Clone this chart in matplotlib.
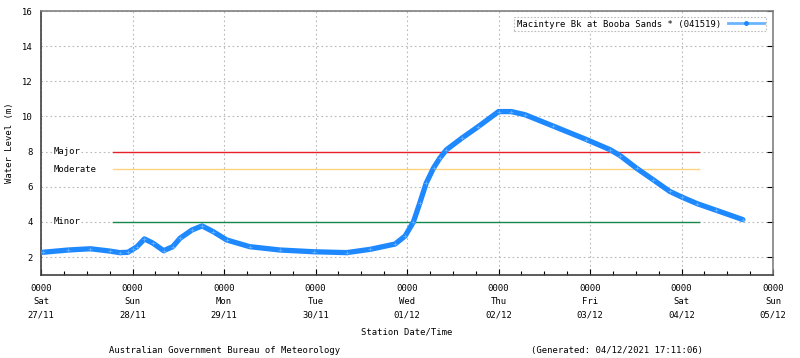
import numpy as np
import matplotlib
matplotlib.use('Agg')
import matplotlib.pyplot as plt
from matplotlib.ticker import MultipleLocator

# days since Sat 27/11 0000
days = [0.02, 0.30, 0.54, 0.75, 0.86, 0.95, 1.01, 1.05, 1.13, 1.22, 1.34, 1.44, 1.52,
        1.65, 1.76, 1.88, 2.03, 2.28, 2.61, 2.98, 3.34, 3.60, 3.87, 3.98, 4.07,
        4.14, 4.21, 4.29, 4.36, 4.43, 4.60, 4.78, 5.00, 5.14, 5.29, 5.60, 5.96,
        6.22, 6.33, 6.51, 6.69, 6.87, 7.00, 7.17, 7.38, 7.67]
level = [2.27, 2.40, 2.47, 2.34, 2.25, 2.27, 2.46, 2.59, 3.03, 2.80, 2.36, 2.59, 3.07,
         3.54, 3.77, 3.45, 2.97, 2.59, 2.40, 2.30, 2.25, 2.44, 2.74, 3.20, 4.00,
         5.08, 6.21, 7.07, 7.64, 8.10, 8.77, 9.43, 10.28, 10.28, 10.10, 9.45, 8.69,
         8.11, 7.77, 7.05, 6.40, 5.74, 5.42, 5.04, 4.66, 4.13]

tick_days = [0, 1, 2, 3, 4, 5, 6, 7, 8]
tick_wd = ['Sat', 'Sun', 'Mon', 'Tue', 'Wed', 'Thu', 'Fri', 'Sat', 'Sun']
tick_dates = ['27/11', '28/11', '29/11', '30/11', '01/12', '02/12', '03/12', '04/12', '05/12']

thresholds = [('Major', 8, '#e8202a'), ('Moderate', 7, '#ffd27f'), ('Minor', 4, '#14894a')]
thr_start, thr_end = 0.79, 7.19

station = 'Macintyre Bk at Booba Sands * (041519)'

plt.rcParams['font.family'] = ['DejaVu Sans Mono']
fs = 6.4

fig = plt.figure(figsize=(8, 3.58), dpi=100)
ax = fig.add_axes([0.05125, 0.233, 0.915, 0.736])

ax.set_xlim(0, 8)
ax.set_ylim(1, 16)

# grid
ax.set_yticks([2, 4, 6, 8, 10, 12, 14, 16])
ax.set_xticks(tick_days)
ax.xaxis.set_minor_locator(MultipleLocator(0.25))
ax.grid(True, which='major', color='#b8b8b8', linestyle=(0, (1.5, 2.5)), linewidth=0.8)

for name, val, col in thresholds:
    ax.plot([thr_start, thr_end], [val, val], color=col, linewidth=1.0, zorder=2)
    ax.text(0.14, val, name, fontsize=fs, va='center', ha='left',
            bbox=dict(facecolor='white', edgecolor='none', pad=0.6), zorder=3)

ax.plot(days, level, color='#1e88ff', linewidth=3.8, solid_capstyle='round',
        solid_joinstyle='round', zorder=4, label=station)
ax.plot(days, level, color='#62b0ff', linestyle='none', marker='+', markersize=3,
        markeredgewidth=0.6, zorder=5)

ax.set_xticklabels(['0000\n%s\n%s' % (w, d) for w, d in zip(tick_wd, tick_dates)],
                   fontsize=fs, linespacing=1.55)
ax.tick_params(axis='x', which='both', direction='in', length=4, width=0.8, pad=7)
ax.tick_params(axis='x', which='minor', length=3)
ax.tick_params(axis='y', which='major', direction='in', length=0, labelsize=fs, pad=6,
               right=True)
for t in ax.yaxis.get_major_ticks():
    t.tick2line.set_markersize(4)

for s in ax.spines.values():
    s.set_color('#808080')
    s.set_linewidth(1.2)
ax.spines['bottom'].set_color('#404040')
ax.spines['left'].set_color('#404040')

ax.set_ylabel('Water Level (m)', fontsize=fs, labelpad=6)
ax.set_xlabel('Station Date/Time', fontsize=fs, labelpad=6)

leg_handle, = ax.plot([], [], color='#6ab4ff', linewidth=2, marker='o', markersize=2.5,
                      markerfacecolor='#1e88ff', markeredgecolor='#1e88ff')
leg = ax.legend([leg_handle], [station], loc='upper right', fontsize=fs,
                frameon=True, fancybox=False, borderpad=0.3, handlelength=4,
                handletextpad=0.8, bbox_to_anchor=(0.997, 0.995), markerfirst=False)
leg.get_frame().set_edgecolor('#aaaaaa')
leg.get_frame().set_linestyle((0, (1.5, 1.5)))
leg.get_frame().set_linewidth(0.8)

fig.text(0.281, 0.022, 'Australian Government Bureau of Meteorology', fontsize=fs,
         ha='center', va='center')
fig.text(0.771, 0.022, '(Generated: 04/12/2021 17:11:06)', fontsize=fs,
         ha='center', va='center')

fig.savefig('out.png', dpi=100)
